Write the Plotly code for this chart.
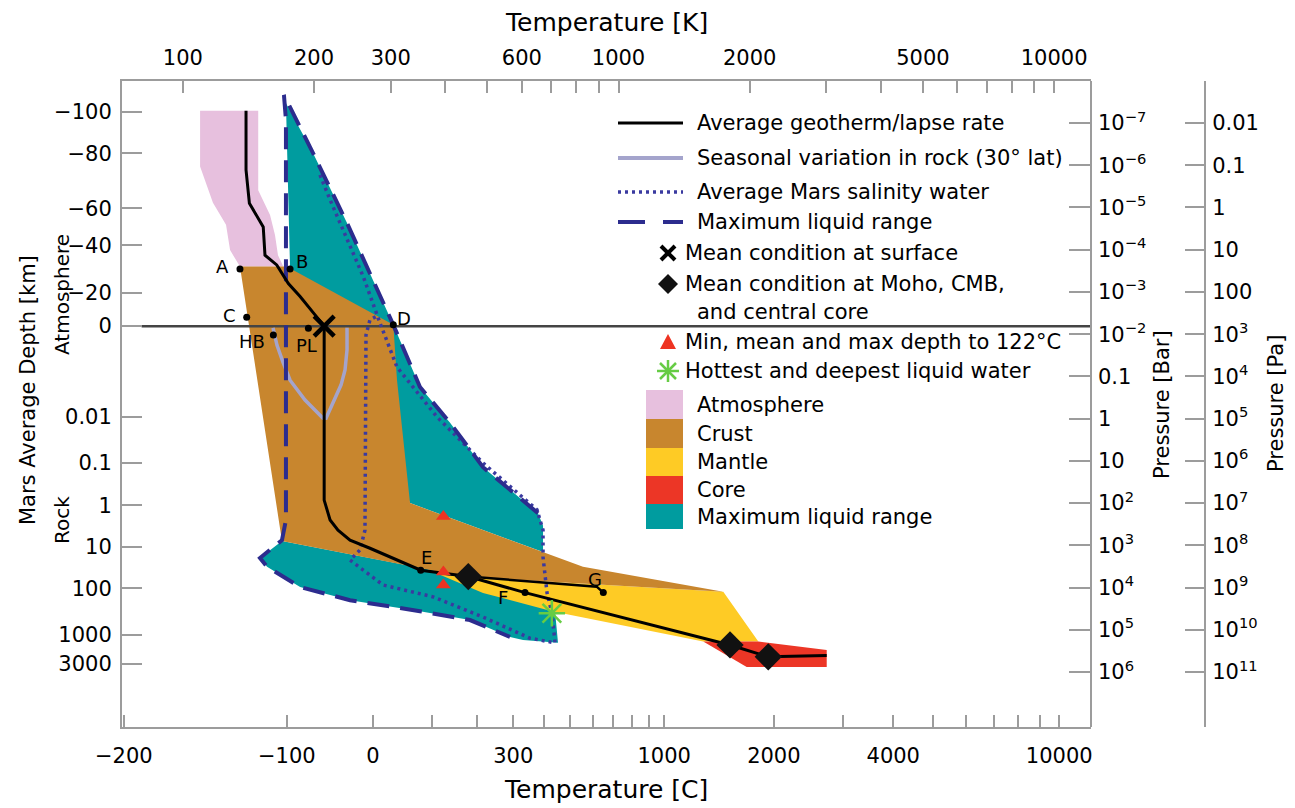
import math
import plotly.graph_objects as go

# ---------------- data : temperature in K, pressure as log10(bar) ----------------
atm_T = [109.5, 148.9, 148.9, 158.5, 162.7, 165.3, 170.0, 135.2, 128.3, 125.6, 117.2, 109.5]
atm_logp = [-7.29, -7.29, -5.41, -4.82, -4.35, -3.87, -3.60, -3.60, -3.99, -4.59, -5.11, -5.97]

crust_T = [135.2, 173.0, 304.1, 310.1, 332.2, 671.0, 828.7, 1740, 451.3, 403.5, 168.8]
crust_logp = [-3.60, -3.60, -2.22, -0.91, 2.00, 3.16, 3.51, 4.10, 3.75, 3.66, 2.90]

mantle_T = [389.3, 451.3, 1740, 2094, 1565, 1080, 703.6, 488.6]
mantle_logp = [3.70, 3.75, 4.10, 5.28, 5.28, 4.94, 4.56, 4.13]

core_T = [1565, 2094, 3006, 3006, 1969]
core_logp = [5.28, 5.28, 5.48, 5.88, 5.88]

liq_upper_T = [172.4, 198.9, 238.1, 304.1, 350.1, 410.5, 488.6, 653.5, 671.0, 671.0, 332.2, 176.2]
liq_upper_logp = [-7.47, -6.29, -4.63, -2.22, -0.75, 0.10, 1.15, 2.24, 2.54, 3.16, 2.00, -3.54]

liq_lower_T = [150.3, 168.8, 451.3, 714.9, 726.3, 603.7, 563.4, 456.1, 350.1, 241.9, 185.8, 156.0]
liq_lower_logp = [3.30, 2.90, 3.75, 4.56, 5.31, 5.24, 5.17, 4.77, 4.56, 4.30, 3.99, 3.51]

maxliq_T = [653.5, 488.6, 410.5, 350.1, 304.1, 238.1, 198.9, 170.6, 172.4, 172.4, 168.8,
            150.3, 156.0, 185.8, 241.9, 350.1, 456.1, 563.4]
maxliq_logp = [2.24, 1.15, 0.10, -0.75, -2.22, -4.63, -6.29, -7.66, -7.07, 2.40, 2.88,
               3.30, 3.51, 3.99, 4.30, 4.56, 4.77, 5.17]

salt_T = [206.4, 217.7, 259.5, 283.5, 310.1, 337.5, 383.1, 488.6, 650.0, 671.0, 671.0, 685.4,
          703.6, 714.9, 626.3, 488.6, 375.1, 288.0, 241.9, 255.0, 261.8, 263.2, 268.8, 279.0]
salt_logp = [-5.77, -5.18, -3.36, -2.26, -1.22, -0.75, -0.04, 1.05, 2.16, 2.64, 3.28, 4.13,
             4.61, 5.31, 5.20, 4.70, 4.22, 3.94, 3.35, 3.11, 2.64, -1.98, -2.34, -2.43]

season_T = [161.0, 164.4, 169.7, 176.2, 190.7, 209.7, 213.1, 221.1, 230.7, 235.6, 238.1, 238.1]
season_logp = [-2.15, -1.74, -1.34, -0.91, -0.44, -0.01, -0.01, -0.39, -0.80, -1.15, -1.63, -2.15]

geo_T = [139.6, 139.6, 142.1, 152.9, 154.3, 164.2, 174.6, 185.8, 202.8, 211.0, 211.0, 217.7,
         227.0, 241.9, 268.8, 351.5, 452.0, 610.1, 1803, 2207, 3006]
geo_logp = [-7.29, -5.89, -5.10, -4.54, -3.87, -3.64, -3.20, -2.89, -2.41, -2.19, 1.93, 2.40,
            2.64, 2.88, 3.07, 3.59, 3.74, 4.12, 5.36, 5.64, 5.61]

geoG_T = [452.0, 891.3, 922.8]
geoG_logp = [3.74, 3.98, 4.12]

datum_T = [80.4, 12134]
datum_logp = [-2.19, -2.19]

pt_labels = ["A", "B", "C", "HB", "PL", "D", "E", "F", "G"]
pt_T = [135.2, 176.2, 140.1, 161.3, 194.1, 304.1, 351.5, 610.1, 922.8]
pt_logp = [-3.54, -3.54, -2.40, -1.98, -2.14, -2.22, 3.59, 4.12, 4.12]

surface_T = [211.0]
surface_logp = [-2.19]
moho_T = [452.0, 1803, 2207]
moho_logp = [3.74, 5.36, 5.64]
t122_T = [396.2, 396.2, 396.2]
t122_logp = [2.32, 3.63, 3.94]
hot_T = [703.1]
hot_logp = [4.61]

# axis ticks
c_ticks = [-200, -100, 0, 100, 200, 300, 400, 500, 600, 700, 800, 900, 1000,
           2000, 3000, 4000, 5000, 6000, 7000, 8000, 9000, 10000]
c_labeled = [-200, -100, 0, 300, 1000, 2000, 4000, 10000]
k_ticks = [100, 200, 300, 400, 500, 600, 700, 800, 900, 1000,
           2000, 3000, 4000, 5000, 6000, 7000, 8000, 9000, 10000]
k_labeled = [100, 200, 300, 600, 1000, 2000, 5000, 10000]
depth_labels = ["−100", "−80", "−60", "−40", "−20", "0", "0.01", "0.1", "1", "10", "100", "1000", "3000"]
depth_tick_logp = [-7.27, -6.28, -4.98, -4.10, -2.98, -2.19, -0.05, 1.04, 2.05, 3.04, 4.02, 5.12, 5.81]
bar_exps = list(range(-7, 7))
bar_labels = ["10<sup>−7</sup>", "10<sup>−6</sup>", "10<sup>−5</sup>", "10<sup>−4</sup>", "10<sup>−3</sup>",
              "10<sup>−2</sup>", "0.1", "1", "10", "10<sup>2</sup>", "10<sup>3</sup>", "10<sup>4</sup>",
              "10<sup>5</sup>", "10<sup>6</sup>"]
pa_labels = ["0.01", "0.1", "1", "10", "100", "10<sup>3</sup>", "10<sup>4</sup>", "10<sup>5</sup>",
             "10<sup>6</sup>", "10<sup>7</sup>", "10<sup>8</sup>", "10<sup>9</sup>", "10<sup>10</sup>",
             "10<sup>11</sup>"]

legend_line_labels = ["Average geotherm/lapse rate", "Seasonal variation in rock (30° lat)",
                      "Average Mars salinity water", "Maximum liquid range"]
legend_marker_labels = ["Mean condition at surface", "Mean condition at Moho, CMB,",
                        "Min, mean and max depth to 122°C", "Hottest and deepest liquid water"]
legend_patch_labels = ["Atmosphere", "Crust", "Mantle", "Core", "Maximum liquid range"]

# ---------------- style ----------------
FONT = "DejaVu Sans"
GRAY = "#9c9c9c"
NAVY = "#2c2c8e"
DOTC = "#3a3aa0"
PINK = "#e7c0de"
CRUST = "#c8862e"
MANTLE = "#fecb25"
CORE = "#ec3626"
TEAL = "#009c9f"
LAV = "#a4a4cc"
RED = "#ee3322"
GREEN = "#66cc44"
DASH = "22px,11px"
DOT = "3px,4px"

OFF = 8                      # page body margin of the html page
L, T, W, H = 122, 81, 1083, 646   # plot frame in reference pixels
XD = (1090.7 - L) / W


def px(x):
    return (x - L) / W


def py(y):
    return (T + H - y) / H


def P(lp):
    return [10 ** v for v in lp]


fig = go.Figure()


def poly(tx, lp, color):
    fig.add_trace(go.Scatter(x=tx, y=P(lp), mode="lines", fill="toself", fillcolor=color,
                             line=dict(width=0, color=color), hoverinfo="skip", showlegend=False))


poly(liq_upper_T, liq_upper_logp, TEAL)
poly(liq_lower_T, liq_lower_logp, TEAL)
poly(atm_T, atm_logp, PINK)
poly(mantle_T, mantle_logp, MANTLE)
poly(crust_T, crust_logp, CRUST)
poly(core_T, core_logp, CORE)


def line(tx, lp, **kw):
    fig.add_trace(go.Scatter(x=tx, y=P(lp), mode="lines", line=kw, hoverinfo="skip", showlegend=False))


line(datum_T, datum_logp, color="#444444", width=2.5)
line(season_T, season_logp, color=LAV, width=3.5)
line(salt_T, salt_logp, color=DOTC, width=3.5, dash=DOT)
line(maxliq_T, maxliq_logp, color=NAVY, width=4, dash=DASH)
line(geo_T, geo_logp, color="black", width=3)
line(geoG_T, geoG_logp, color="black", width=2.5)


def marks(tx, lp, **kw):
    fig.add_trace(go.Scatter(x=tx, y=P(lp), mode="markers", marker=kw, hoverinfo="skip", showlegend=False))


marks(pt_T, pt_logp, symbol="circle", size=7, color="black")
marks(t122_T, t122_logp, symbol="triangle-up", size=13, color=RED)
marks(hot_T, hot_logp, symbol="asterisk-open", size=22, color=GREEN, line=dict(color=GREEN, width=2.5))
marks(surface_T, surface_logp, symbol="x-thin", size=20, color="black", line=dict(color="black", width=4.5))
marks(moho_T, moho_logp, symbol="diamond", size=21, color="#111111")

# dummy traces so the extra axes get drawn
for xa, ya in [("x2", "y"), ("x", "y2"), ("x", "y3")]:
    fig.add_trace(go.Scatter(x=[], y=[], xaxis=xa, yaxis=ya, showlegend=False, hoverinfo="skip"))

annotations = []
shapes = []


def txt(x, y, s, size=21, xanchor="left", angle=0):
    annotations.append(dict(text=s, x=px(x), y=py(y), xref="paper", yref="paper", xanchor=xanchor,
                            yanchor="middle", showarrow=False, textangle=angle,
                            font=dict(family=FONT, size=size, color="black")))


# point labels
label_shift = {"A": (-17, 3), "B": (12, 8), "C": (-17, 2), "HB": (-21, -6), "PL": (-2, -17),
               "D": (11, 6), "E": (6, 13), "F": (-22, -5), "G": (-8, 13)}
for lab, tk, lp in zip(pt_labels, pt_T, pt_logp):
    dx, dy = label_shift[lab]
    annotations.append(dict(text=lab, x=math.log10(tk), y=lp, xref="x", yref="y", showarrow=False,
                            xshift=dx, yshift=dy, font=dict(family=FONT, size=18, color="black")))

# axis titles
txt(606, 22, "Temperature [K]", size=25, xanchor="center")
txt(606, 789, "Temperature [C]", size=25, xanchor="center")
txt(28, 390, "Mars Average Depth [km]", size=21, xanchor="center", angle=-90)
txt(62, 295, "Atmosphere", size=20, xanchor="center", angle=-90)
txt(62, 520, "Rock", size=20, xanchor="center", angle=-90)
txt(1162, 405, "Pressure [Bar]", size=21, xanchor="center", angle=-90)
txt(1276, 404, "Pressure [Pa]", size=21, xanchor="center", angle=-90)

# ---------------- manual legend ----------------
line_rows = [123, 158, 192, 222]
line_styles = [dict(color="black", width=3), dict(color=LAV, width=4),
               dict(color=DOTC, width=3.5, dash=DOT), dict(color=NAVY, width=4, dash="27px,18px")]
for lab, yy, st in zip(legend_line_labels, line_rows, line_styles):
    shapes.append(dict(type="line", xref="paper", yref="paper", x0=px(618), x1=px(683),
                       y0=py(yy), y1=py(yy), line=st))
    txt(695, yy, lab)

marker_rows = [253, 284, 342, 371]
for lab, yy in zip(legend_marker_labels, marker_rows):
    txt(683, yy, lab)
txt(695, 312, "and central core")

# X
cx, cy = 668, 253
for a, b in [((-7, -7), (7, 7)), ((-7, 7), (7, -7))]:
    shapes.append(dict(type="line", xref="paper", yref="paper", x0=px(cx + a[0]), y0=py(cy + a[1]),
                       x1=px(cx + b[0]), y1=py(cy + b[1]), line=dict(color="black", width=4)))
# diamond
cx, cy = 668, 284
shapes.append(dict(type="path", xref="paper", yref="paper",
                   path=f"M {px(cx)},{py(cy-10)} L {px(cx+10)},{py(cy)} L {px(cx)},{py(cy+10)} L {px(cx-10)},{py(cy)} Z",
                   fillcolor="#111111", line=dict(width=0)))
# triangle
cx, cy = 668, 342
shapes.append(dict(type="path", xref="paper", yref="paper",
                   path=f"M {px(cx)},{py(cy-8)} L {px(cx+8)},{py(cy+7)} L {px(cx-8)},{py(cy+7)} Z",
                   fillcolor=RED, line=dict(width=0)))
# asterisk
cx, cy = 668, 371
for dx, dy in [(11, 0), (0, 11), (8, 8), (8, -8)]:
    shapes.append(dict(type="line", xref="paper", yref="paper", x0=px(cx - dx), y0=py(cy - dy),
                       x1=px(cx + dx), y1=py(cy + dy), line=dict(color=GREEN, width=2.5)))

patch_edges = [390, 419, 448, 476, 504, 529]
patch_colors = [PINK, CRUST, MANTLE, CORE, TEAL]
for i, (lab, col) in enumerate(zip(legend_patch_labels, patch_colors)):
    y0, y1 = patch_edges[i], patch_edges[i + 1]
    shapes.append(dict(type="rect", xref="paper", yref="paper", x0=px(646), x1=px(683),
                       y0=py(y1), y1=py(y0), fillcolor=col, line=dict(width=0)))
    txt(695, (y0 + y1) / 2, lab)

# ---------------- axes ----------------
tick_font = dict(family=FONT, size=21, color="black")
xrange = [math.log10(72.47), math.log10(12134)]
yrange = [7.303, -7.995]
common_x = dict(type="log", range=xrange, ticks="inside", ticklen=12, tickwidth=2, tickcolor=GRAY,
                showline=True, linecolor=GRAY, linewidth=2, showgrid=False, zeroline=False,
                tickfont=tick_font, fixedrange=True)
common_y = dict(type="log", range=yrange, ticks="inside", tickwidth=2, tickcolor=GRAY,
                showline=True, linecolor=GRAY, linewidth=2, showgrid=False, zeroline=False,
                tickfont=tick_font, fixedrange=True)


def cfmt(c):
    return str(c).replace("-", "−")


fig.update_layout(
    width=1295 - OFF, height=808 - OFF,
    margin=dict(l=L - OFF, r=1295 - L - W, t=T - OFF, b=808 - T - H),
    paper_bgcolor="white", plot_bgcolor="white",
    font=dict(family=FONT, color="black"),
    showlegend=False,
    xaxis=dict(domain=[0, XD], tickvals=[c + 273.15 for c in c_labeled],
               ticktext=[cfmt(c) for c in c_labeled],
               minor=dict(tickvals=[c + 273.15 for c in c_ticks if c not in c_labeled],
                          ticks="inside", ticklen=12, tickwidth=2, tickcolor=GRAY, showgrid=False),
               ticklabelstandoff=9, **common_x),
    xaxis2=dict(overlaying="x", side="top", anchor="y", tickvals=k_labeled,
                ticktext=[str(k) for k in k_labeled],
                minor=dict(tickvals=[k for k in k_ticks if k not in k_labeled],
                           ticks="inside", ticklen=12, tickwidth=2, tickcolor=GRAY, showgrid=False),
                ticklabelstandoff=6, **common_x),
    yaxis=dict(domain=[0, 1], tickvals=P(depth_tick_logp), ticktext=depth_labels, ticklen=20,
               ticklabelstandoff=4, **common_y),
    yaxis2=dict(overlaying="y", anchor="free", position=XD, side="right",
                tickvals=[10.0 ** e for e in bar_exps], ticktext=bar_labels, ticklen=21,
                ticklabelstandoff=2, **common_y),
    yaxis3=dict(overlaying="y", anchor="free", position=1.0, side="right",
                tickvals=[10.0 ** e for e in bar_exps], ticktext=pa_labels, ticklen=19,
                ticklabelstandoff=2, **common_y),
    annotations=annotations,
    shapes=shapes,
)

fig.write_html("out.html")
